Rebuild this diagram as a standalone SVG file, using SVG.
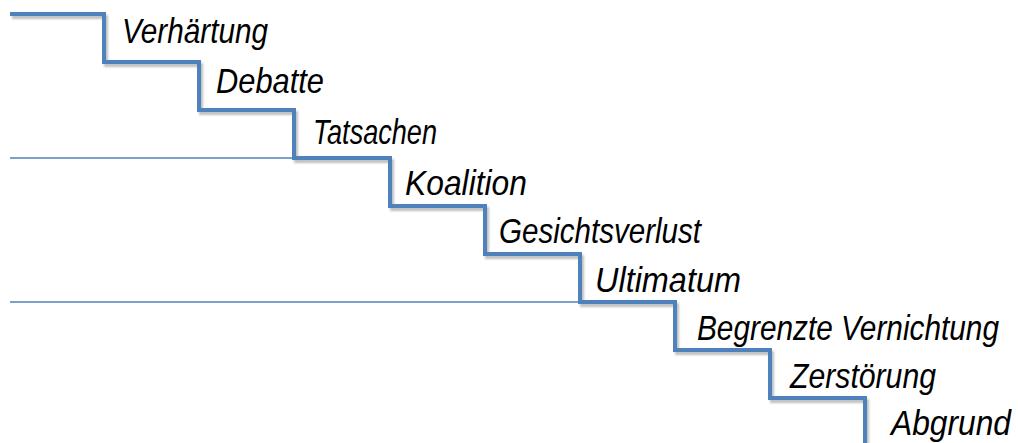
<svg xmlns="http://www.w3.org/2000/svg" width="1018" height="443" viewBox="0 0 1018 443">
<style>
.lbl{font-family:"Liberation Sans",Arial,sans-serif;font-style:italic;font-size:35px;fill:#000}
.stair{fill:none;stroke:#4F81BD;stroke-width:4;stroke-linejoin:miter}
.shadow{fill:none;stroke:#000;stroke-opacity:0.25;stroke-width:4;filter:url(#blur)}
.thin{stroke:#4F81BD;stroke-width:1.5}
</style>
<defs>
<filter id="blur" x="-5%" y="-5%" width="110%" height="110%"><feGaussianBlur stdDeviation="1.2"/></filter>
</defs>
<g id="connectors">
<line class="thin" x1="10" y1="158" x2="294" y2="158"/>
<line class="thin" x1="10" y1="302" x2="580" y2="302"/>
<path class="shadow" transform="translate(2,3)" d="M10,14 H104 V62 H199 V110 H294 V158 H390 V206 H485 V254 H580 V302 H675 V350 H770 V398 H865 V443"/>
<path class="stair" d="M10,14 H104 V62 H199 V110 H294 V158 H390 V206 H485 V254 H580 V302 H675 V350 H770 V398 H865 V443"/>
</g>
<g id="n1"><text class="lbl" x="122" y="43" textLength="146" lengthAdjust="spacingAndGlyphs">Verhärtung</text></g>
<g id="n2"><text class="lbl" x="216" y="93" textLength="108" lengthAdjust="spacingAndGlyphs">Debatte</text></g>
<g id="n3"><text class="lbl" x="313" y="144" textLength="124" lengthAdjust="spacingAndGlyphs">Tatsachen</text></g>
<g id="n4"><text class="lbl" x="405" y="195" textLength="122" lengthAdjust="spacingAndGlyphs">Koalition</text></g>
<g id="n5"><text class="lbl" x="499" y="243" textLength="202" lengthAdjust="spacingAndGlyphs">Gesichtsverlust</text></g>
<g id="n6"><text class="lbl" x="595" y="292" textLength="146" lengthAdjust="spacingAndGlyphs">Ultimatum</text></g>
<g id="n7"><text class="lbl" x="697" y="340" textLength="302" lengthAdjust="spacingAndGlyphs">Begrenzte Vernichtung</text></g>
<g id="n8"><text class="lbl" x="790" y="388" textLength="146" lengthAdjust="spacingAndGlyphs">Zerstörung</text></g>
<g id="n9"><text class="lbl" x="891" y="435" textLength="120" lengthAdjust="spacingAndGlyphs">Abgrund</text></g>
</svg>
